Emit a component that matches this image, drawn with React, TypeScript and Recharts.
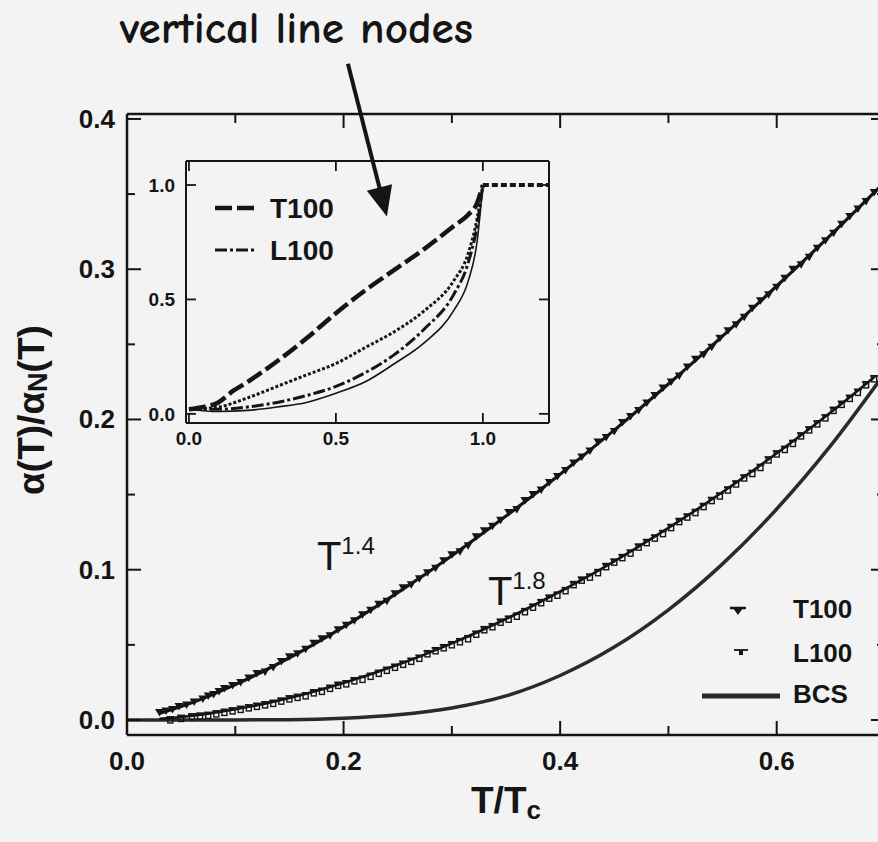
import React from 'react';
import {
  ComposedChart,
  Line,
  Scatter,
  XAxis,
  YAxis,
  ReferenceLine,
  ReferenceDot,
  Legend,
} from 'recharts';

const BG = '#f3f3f3';
const INK = '#151515';
const SANS = "'Liberation Sans', Arial, Helvetica, sans-serif";

// ---------- main chart data ----------
const mainXTicks = [0, 0.1, 0.2, 0.3, 0.4, 0.5, 0.6, 0.7];
const mainYTicks = [0, 0.05, 0.1, 0.15, 0.2, 0.25, 0.3, 0.35, 0.4];

const t100X = [0.030, 0.036, 0.042, 0.048, 0.055, 0.062, 0.070, 0.075, 0.080, 0.085, 0.090, 0.0975, 0.105, 0.1125, 0.120, 0.1275, 0.135, 0.1425, 0.150, 0.1575, 0.165, 0.1725, 0.180, 0.1875, 0.195, 0.2025, 0.210, 0.2175, 0.225, 0.2325, 0.240, 0.2475, 0.255, 0.2625, 0.270, 0.2775, 0.285, 0.2925, 0.300, 0.3075, 0.315, 0.3225, 0.330, 0.3375, 0.345, 0.3525, 0.360, 0.3675, 0.375, 0.3825, 0.390, 0.3975, 0.405, 0.4125, 0.420, 0.4275, 0.435, 0.4425, 0.450, 0.4575, 0.465, 0.4725, 0.480, 0.4875, 0.495, 0.5025, 0.510, 0.5175, 0.525, 0.5325, 0.540, 0.5475, 0.555, 0.5625, 0.570, 0.5775, 0.585, 0.5925, 0.600, 0.6075, 0.615, 0.6225, 0.630, 0.6375, 0.645, 0.6525, 0.660, 0.6675, 0.675, 0.6825, 0.690];
const t100Y = [0.005, 0.006, 0.007, 0.009, 0.010, 0.012, 0.014, 0.016, 0.017, 0.019, 0.021, 0.023, 0.025, 0.028, 0.031, 0.032, 0.035, 0.039, 0.042, 0.044, 0.047, 0.051, 0.054, 0.056, 0.060, 0.063, 0.066, 0.070, 0.073, 0.077, 0.079, 0.084, 0.088, 0.090, 0.094, 0.098, 0.101, 0.106, 0.110, 0.112, 0.116, 0.122, 0.126, 0.129, 0.133, 0.138, 0.140, 0.146, 0.150, 0.153, 0.158, 0.162, 0.166, 0.171, 0.175, 0.179, 0.185, 0.188, 0.192, 0.198, 0.202, 0.206, 0.211, 0.216, 0.221, 0.225, 0.229, 0.235, 0.240, 0.243, 0.248, 0.254, 0.259, 0.263, 0.268, 0.274, 0.279, 0.283, 0.288, 0.294, 0.300, 0.303, 0.308, 0.314, 0.319, 0.324, 0.330, 0.335, 0.340, 0.345, 0.351];

const l100X = [0.040, 0.050, 0.060, 0.0675, 0.075, 0.0825, 0.090, 0.0975, 0.105, 0.1125, 0.120, 0.1275, 0.135, 0.1425, 0.150, 0.1575, 0.165, 0.1725, 0.180, 0.1875, 0.195, 0.2025, 0.210, 0.2175, 0.225, 0.2325, 0.240, 0.2475, 0.255, 0.2625, 0.270, 0.2775, 0.285, 0.2925, 0.300, 0.3075, 0.315, 0.3225, 0.330, 0.3375, 0.345, 0.3525, 0.360, 0.3675, 0.375, 0.3825, 0.390, 0.3975, 0.405, 0.4125, 0.420, 0.4275, 0.435, 0.4425, 0.450, 0.4575, 0.465, 0.4725, 0.480, 0.4875, 0.495, 0.5025, 0.510, 0.5175, 0.525, 0.5325, 0.540, 0.5475, 0.555, 0.5625, 0.570, 0.5775, 0.585, 0.5925, 0.600, 0.6075, 0.615, 0.6225, 0.630, 0.6375, 0.645, 0.6525, 0.660, 0.6675, 0.675, 0.6825, 0.690];
const l100Y = [0.001, 0.002, 0.003, 0.0035, 0.004, 0.005, 0.006, 0.007, 0.008, 0.009, 0.010, 0.011, 0.012, 0.0135, 0.015, 0.016, 0.017, 0.019, 0.020, 0.022, 0.024, 0.025, 0.027, 0.028, 0.030, 0.032, 0.034, 0.036, 0.038, 0.040, 0.042, 0.045, 0.047, 0.049, 0.051, 0.053, 0.055, 0.058, 0.061, 0.063, 0.066, 0.068, 0.070, 0.073, 0.076, 0.079, 0.082, 0.084, 0.087, 0.091, 0.094, 0.096, 0.099, 0.103, 0.106, 0.109, 0.112, 0.116, 0.119, 0.122, 0.125, 0.129, 0.133, 0.136, 0.139, 0.143, 0.147, 0.150, 0.154, 0.158, 0.162, 0.165, 0.169, 0.174, 0.178, 0.181, 0.185, 0.190, 0.194, 0.198, 0.202, 0.207, 0.211, 0.215, 0.219, 0.224, 0.228];

const fit14X = [0.03, 0.05, 0.075, 0.1, 0.125, 0.15, 0.2, 0.25, 0.3, 0.35, 0.4, 0.45, 0.5, 0.55, 0.6, 0.65, 0.7];
const fit14Y = [0.0044, 0.0089, 0.0157, 0.0235, 0.0321, 0.0414, 0.0620, 0.0847, 0.1093, 0.1357, 0.1636, 0.1929, 0.2236, 0.2555, 0.2888, 0.3228, 0.3581];

const fit18X = [0.03, 0.05, 0.075, 0.1, 0.125, 0.15, 0.2, 0.25, 0.3, 0.35, 0.4, 0.45, 0.5, 0.55, 0.6, 0.65, 0.69];
const fit18Y = [0.0008, 0.0020, 0.0042, 0.0071, 0.0105, 0.0146, 0.0246, 0.0367, 0.0510, 0.0672, 0.0855, 0.1056, 0.1278, 0.1517, 0.1775, 0.2048, 0.2282];

const bcsX = [0, 0.1, 0.15, 0.2, 0.25, 0.3, 0.35, 0.4, 0.45, 0.5, 0.55, 0.6, 0.65, 0.7];
const bcsY = [0, 0, 0.0002, 0.0012, 0.0035, 0.008, 0.016, 0.0296, 0.0485, 0.0733, 0.1039, 0.1404, 0.1827, 0.231];

// ---------- inset data ----------
const insetXTicks = [0, 0.5, 1.0];
const insetYTicks = [0, 0.5, 1.0];

const insetT100X = [0, 0.05, 0.1, 0.15, 0.2, 0.3, 0.4, 0.5, 0.6, 0.7, 0.8, 0.9, 0.95, 0.98, 1.0];
const insetT100Y = [0.02, 0.03, 0.05, 0.10, 0.14, 0.23, 0.33, 0.44, 0.54, 0.63, 0.72, 0.82, 0.87, 0.92, 1.0];

const insetFlatX = [1.0, 1.03, 1.06, 1.09, 1.12, 1.15, 1.18, 1.21, 1.225];
const insetFlatY = [1.0, 1.0, 1.0, 1.0, 1.0, 1.0, 1.0, 1.0, 1.0];

const insetMidX = [0, 0.1, 0.2, 0.3, 0.4, 0.5, 0.6, 0.7, 0.8, 0.9, 0.95, 0.98, 1.0];
const insetMidY = [0.02, 0.03, 0.07, 0.12, 0.17, 0.22, 0.29, 0.36, 0.45, 0.58, 0.70, 0.85, 1.0];

const insetL100X = [0, 0.1, 0.2, 0.3, 0.4, 0.5, 0.6, 0.7, 0.8, 0.9, 0.95, 0.98, 1.0];
const insetL100Y = [0.02, 0.02, 0.03, 0.05, 0.08, 0.12, 0.18, 0.26, 0.37, 0.52, 0.66, 0.82, 1.0];

const insetLowX = [0, 0.1, 0.2, 0.3, 0.4, 0.5, 0.6, 0.7, 0.8, 0.9, 0.95, 0.98, 1.0];
const insetLowY = [0.02, 0.01, 0.015, 0.03, 0.05, 0.09, 0.14, 0.22, 0.31, 0.45, 0.58, 0.75, 1.0];

const zip = (xs: number[], ys: number[]) => xs.map((x, i) => ({ x, y: ys[i] }));

const t100Pts = zip(t100X, t100Y);
const l100Pts = zip(l100X, l100Y);
const fit14Pts = zip(fit14X, fit14Y);
const fit18Pts = zip(fit18X, fit18Y);
const bcsPts = zip(bcsX, bcsY);

const insetT100Pts = zip(insetT100X, insetT100Y);
const insetFlatPts = zip(insetFlatX, insetFlatY);
const insetMidPts = zip(insetMidX, insetMidY);
const insetL100Pts = zip(insetL100X, insetL100Y);
const insetLowPts = zip(insetLowX, insetLowY);

// ---------- tick renderers ----------
const isMajor = (v: number, step: number) => Math.abs(v / step - Math.round(v / step)) < 1e-6;

const BottomTick = (props: any) => {
  const { x, y, payload } = props;
  const major = isMajor(payload.value, 0.2);
  return (
    <g>
      <line x1={x} x2={x} y1={y} y2={y - (major ? 14 : 9)} stroke={INK} strokeWidth={2} />
      {major && (
        <text x={x} y={y + 35} textAnchor="middle" fontSize={26} fontWeight="bold" fontFamily={SANS} fill={INK}>
          {payload.value.toFixed(1)}
        </text>
      )}
    </g>
  );
};
const TopTick = (props: any) => {
  const { x, y, payload } = props;
  const major = isMajor(payload.value, 0.2);
  return <line x1={x} x2={x} y1={y} y2={y + (major ? 14 : 9)} stroke={INK} strokeWidth={2} />;
};
const LeftTick = (props: any) => {
  const { x, y, payload } = props;
  const major = isMajor(payload.value, 0.1);
  return (
    <g>
      <line x1={x} x2={x + (major ? 14 : 8)} y1={y} y2={y} stroke={INK} strokeWidth={2} />
      {major && (
        <text x={x - 12} y={y + 9} textAnchor="end" fontSize={26} fontWeight="bold" fontFamily={SANS} fill={INK}>
          {payload.value.toFixed(1)}
        </text>
      )}
    </g>
  );
};
const RightTick = (props: any) => {
  const { x, y, payload } = props;
  const major = isMajor(payload.value, 0.1);
  return <line x1={x} x2={x - (major ? 14 : 8)} y1={y} y2={y} stroke={INK} strokeWidth={2} />;
};

const InsetBottomTick = (props: any) => {
  const { x, y, payload } = props;
  return (
    <g>
      <line x1={x} x2={x} y1={y} y2={y - 10} stroke={INK} strokeWidth={1.8} />
      <text x={x} y={y + 22} textAnchor="middle" fontSize={19} fontWeight="bold" fontFamily={SANS} fill={INK}>
        {payload.value.toFixed(1)}
      </text>
    </g>
  );
};
const InsetTopTick = (props: any) => {
  const { x, y } = props;
  return <line x1={x} x2={x} y1={y} y2={y + 10} stroke={INK} strokeWidth={1.8} />;
};
const InsetLeftTick = (props: any) => {
  const { x, y, payload } = props;
  return (
    <g>
      <line x1={x} x2={x + 10} y1={y} y2={y} stroke={INK} strokeWidth={1.8} />
      <text x={x - 11} y={y + 7} textAnchor="end" fontSize={19} fontWeight="bold" fontFamily={SANS} fill={INK}>
        {payload.value.toFixed(1)}
      </text>
    </g>
  );
};
const InsetRightTick = (props: any) => {
  const { x, y } = props;
  return <line x1={x} x2={x - 10} y1={y} y2={y} stroke={INK} strokeWidth={1.8} />;
};

// ---------- markers ----------
const T100Marker = (p: any) => {
  const { cx, cy } = p;
  if (cx == null || cy == null) return <g />;
  return <polygon points={`${cx - 4.5},${cy - 3.5} ${cx + 4.5},${cy - 3.5} ${cx},${cy + 4}`} fill={INK} />;
};
const L100Marker = (p: any) => {
  const { cx, cy } = p;
  if (cx == null || cy == null) return <g />;
  return (
    <g>
      <rect x={cx - 2.5} y={cy - 0.5} width={5} height={5} fill="none" stroke={INK} strokeWidth={1.4} />
      <line x1={cx - 4} x2={cx + 4} y1={cy - 1.5} y2={cy - 1.5} stroke={INK} strokeWidth={1.8} />
    </g>
  );
};

// ---------- arrow ----------
const ArrowShape = (p: any) => {
  const { x1, y1, x2, y2 } = p;
  const dx = x2 - x1;
  const dy = y2 - y1;
  const len = Math.sqrt(dx * dx + dy * dy) || 1;
  const ux = dx / len;
  const uy = dy / len;
  const bx = x2 - ux * 30;
  const by = y2 - uy * 30;
  const nx = -uy;
  const ny = ux;
  return (
    <g>
      <line x1={x1} y1={y1} x2={bx + ux * 4} y2={by + uy * 4} stroke={INK} strokeWidth={4} />
      <polygon points={`${x2},${y2} ${bx + nx * 13},${by + ny * 13} ${bx - nx * 13},${by - ny * 13}`} fill={INK} />
    </g>
  );
};

// ---------- annotation labels ----------
const powerLabel = (exp: string) => (p: any) => {
  const vb = p.viewBox || {};
  return (
    <text x={vb.x} y={vb.y} fontFamily={SANS} fill={INK}>
      <tspan fontSize={40}>T</tspan>
      <tspan fontSize={24} dy={-16}>{exp}</tspan>
    </text>
  );
};

const YLabel = () => {
  const cx = 31;
  const cy = 410;
  return (
    <text
      x={cx}
      y={cy}
      transform={`rotate(-90, ${cx}, ${cy})`}
      textAnchor="middle"
      dominantBaseline="central"
      fontSize={37}
      fontWeight="bold"
      fontFamily={SANS}
      fill={INK}
    >
      α(T)/α
      <tspan dy={7} fontSize={27}>N</tspan>
      <tspan dy={-7}>(T)</tspan>
    </text>
  );
};

const XLabel = (p: any) => {
  const vb = p.viewBox || {};
  const cx = vb.x + vb.width / 2;
  return (
    <text x={cx} y={vb.y + 78} textAnchor="middle" fontSize={37} fontWeight="bold" fontFamily={SANS} fill={INK}>
      T/T
      <tspan fontSize={26} dy={6}>c</tspan>
    </text>
  );
};

// ---------- legends ----------
const MainLegend = () => (
  <svg width={188} height={130} style={{ display: 'block' }}>
    <line x1={40} x2={56} y1={18} y2={18} stroke={INK} strokeWidth={2.5} />
    <polygon points="43,18 53,18 48,25" fill={INK} />
    <text x={103} y={28} fontSize={26} fontWeight="bold" fontFamily={SANS} fill={INK}>T100</text>
    <line x1={44} x2={58} y1={60} y2={60} stroke={INK} strokeWidth={1.8} />
    <rect x={49} y={60} width={4} height={5} fill={INK} />
    <text x={103} y={72} fontSize={26} fontWeight="bold" fontFamily={SANS} fill={INK}>L100</text>
    <line x1={12} x2={90} y1={106} y2={106} stroke="#2a2a2a" strokeWidth={5} />
    <text x={103} y={113} fontSize={26} fontWeight="bold" fontFamily={SANS} fill={INK}>BCS</text>
  </svg>
);

const InsetLegend = () => (
  <svg width={160} height={90} style={{ display: 'block' }}>
    <line x1={5} x2={47} y1={18} y2={18} stroke={INK} strokeWidth={4.5} strokeDasharray="17 5" />
    <text x={60} y={28} fontSize={28} fontWeight="bold" fontFamily={SANS} fill={INK}>T100</text>
    <line x1={5} x2={47} y1={60} y2={60} stroke={INK} strokeWidth={3} strokeDasharray="12 3 3 3" />
    <text x={60} y={70} fontSize={28} fontWeight="bold" fontFamily={SANS} fill={INK}>L100</text>
  </svg>
);

const MainChart = () => (
  <ComposedChart width={900} height={842} margin={{ top: 100, right: 0, bottom: 0, left: 0 }}>
    <XAxis
      xAxisId="b"
      type="number"
      dataKey="x"
      domain={[0, 0.7]}
      ticks={mainXTicks}
      interval={0}
      allowDataOverflow
      orientation="bottom"
      height={107}
      tickSize={0}
      tickMargin={0}
      tickLine={false}
      tick={BottomTick}
      axisLine={{ stroke: INK, strokeWidth: 2.5 }}
      label={{ content: XLabel }}
    />
    <XAxis
      xAxisId="t"
      type="number"
      dataKey="x"
      domain={[0, 0.7]}
      ticks={mainXTicks}
      interval={0}
      allowDataOverflow
      orientation="top"
      height={14}
      tickSize={0}
      tickMargin={0}
      tickLine={false}
      tick={TopTick}
      axisLine={{ stroke: INK, strokeWidth: 2.5 }}
    />
    <YAxis
      yAxisId="l"
      type="number"
      dataKey="y"
      domain={[-0.01, 0.4033]}
      ticks={mainYTicks}
      interval={0}
      allowDataOverflow
      orientation="left"
      width={127}
      tickSize={0}
      tickMargin={0}
      tickLine={false}
      tick={LeftTick}
      axisLine={{ stroke: INK, strokeWidth: 2.5 }}
      label={{ content: YLabel }}
    />
    <YAxis
      yAxisId="r"
      type="number"
      dataKey="y"
      domain={[-0.01, 0.4033]}
      ticks={mainYTicks}
      interval={0}
      allowDataOverflow
      orientation="right"
      width={15}
      tickSize={0}
      tickMargin={0}
      tickLine={false}
      tick={RightTick}
      axisLine={{ stroke: INK, strokeWidth: 2.5 }}
    />
    <Line xAxisId="b" yAxisId="l" data={bcsPts} dataKey="y" type="monotone" stroke="#2a2a2a" strokeWidth={3.5} dot={false} isAnimationActive={false} />
    <Line xAxisId="b" yAxisId="l" data={fit18Pts} dataKey="y" type="monotone" stroke={INK} strokeWidth={2.6} dot={false} isAnimationActive={false} />
    <Line xAxisId="b" yAxisId="l" data={fit14Pts} dataKey="y" type="monotone" stroke={INK} strokeWidth={3.2} dot={false} isAnimationActive={false} />
    <Scatter xAxisId="b" yAxisId="l" data={l100Pts} dataKey="y" shape={L100Marker} isAnimationActive={false} />
    <Scatter xAxisId="b" yAxisId="l" data={t100Pts} dataKey="y" shape={T100Marker} isAnimationActive={false} />
    <ReferenceDot xAxisId="b" yAxisId="l" x={0.1754} y={0.0998} r={0} fill="none" stroke="none" label={powerLabel('1.4')} />
    <ReferenceDot xAxisId="b" yAxisId="l" x={0.3333} y={0.0765} r={0} fill="none" stroke="none" label={powerLabel('1.8')} />
    <ReferenceLine
      xAxisId="b"
      yAxisId="l"
      segment={[{ x: 0.204, y: 0.4367 }, { x: 0.24, y: 0.335 }]}
      ifOverflow="visible"
      shape={ArrowShape}
    />
    <Legend
      content={MainLegend}
      layout="horizontal"
      verticalAlign="middle"
      align="center"
      wrapperStyle={{ position: 'absolute', left: 690, top: 590, width: 188, height: 130 }}
    />
  </ComposedChart>
);

const InsetChart = () => (
  <ComposedChart width={440} height={300} margin={{ top: 0, right: 0, bottom: 0, left: 0 }}>
    <XAxis
      xAxisId="b"
      type="number"
      dataKey="x"
      domain={[-0.01, 1.225]}
      ticks={insetXTicks}
      interval={0}
      allowDataOverflow
      orientation="bottom"
      height={27}
      tickSize={0}
      tickMargin={0}
      tickLine={false}
      tick={InsetBottomTick}
      axisLine={{ stroke: INK, strokeWidth: 2 }}
    />
    <XAxis
      xAxisId="t"
      type="number"
      dataKey="x"
      domain={[-0.01, 1.225]}
      ticks={insetXTicks}
      interval={0}
      allowDataOverflow
      orientation="top"
      height={11}
      tickSize={0}
      tickMargin={0}
      tickLine={false}
      tick={InsetTopTick}
      axisLine={{ stroke: INK, strokeWidth: 2 }}
    />
    <YAxis
      yAxisId="l"
      type="number"
      dataKey="y"
      domain={[-0.04, 1.105]}
      ticks={insetYTicks}
      interval={0}
      allowDataOverflow
      orientation="left"
      width={66}
      tickSize={0}
      tickMargin={0}
      tickLine={false}
      tick={InsetLeftTick}
      axisLine={{ stroke: INK, strokeWidth: 2 }}
    />
    <YAxis
      yAxisId="r"
      type="number"
      dataKey="y"
      domain={[-0.04, 1.105]}
      ticks={insetYTicks}
      interval={0}
      allowDataOverflow
      orientation="right"
      width={11}
      tickSize={0}
      tickMargin={0}
      tickLine={false}
      tick={InsetRightTick}
      axisLine={{ stroke: INK, strokeWidth: 2 }}
    />
    <Line xAxisId="b" yAxisId="l" data={insetLowPts} dataKey="y" type="monotone" stroke={INK} strokeWidth={1.6} dot={false} isAnimationActive={false} />
    <Line xAxisId="b" yAxisId="l" data={insetL100Pts} dataKey="y" type="monotone" stroke={INK} strokeWidth={3} strokeDasharray="12 3 3 3" dot={false} isAnimationActive={false} />
    <Line xAxisId="b" yAxisId="l" data={insetMidPts} dataKey="y" type="monotone" stroke={INK} strokeWidth={3} strokeDasharray="3 2" dot={false} isAnimationActive={false} />
    <Line xAxisId="b" yAxisId="l" data={insetT100Pts} dataKey="y" type="monotone" stroke={INK} strokeWidth={4.5} strokeDasharray="17 5" dot={false} isAnimationActive={false} />
    <Line xAxisId="b" yAxisId="l" data={insetFlatPts} dataKey="y" type="linear" stroke={INK} strokeWidth={4} strokeDasharray="6 3" dot={false} isAnimationActive={false} />
    <Legend
      content={InsetLegend}
      layout="horizontal"
      verticalAlign="middle"
      align="center"
      wrapperStyle={{ position: 'absolute', left: 90, top: 40, width: 160, height: 90 }}
    />
  </ComposedChart>
);

export default function App() {
  return (
    <div
      style={{
        position: 'absolute',
        left: 0,
        top: 0,
        width: 878,
        height: 842,
        overflow: 'hidden',
        background: BG,
      }}
    >
      <svg width={878} height={60} style={{ position: 'absolute', left: 0, top: 0 }}>
        <text
          x={120}
          y={43}
          fontSize={45}
          fontWeight="bold"
          textLength={353}
          lengthAdjust="spacingAndGlyphs"
          fontFamily="'Comic Sans MS', 'Comic Neue', 'DejaVu Sans', sans-serif"
          fill={INK}
        >
          vertical line nodes
        </text>
      </svg>
      <div style={{ position: 'absolute', left: 0, top: 0 }}>
        <MainChart />
      </div>
      <div style={{ position: 'absolute', left: 120, top: 150 }}>
        <InsetChart />
      </div>
    </div>
  );
}
